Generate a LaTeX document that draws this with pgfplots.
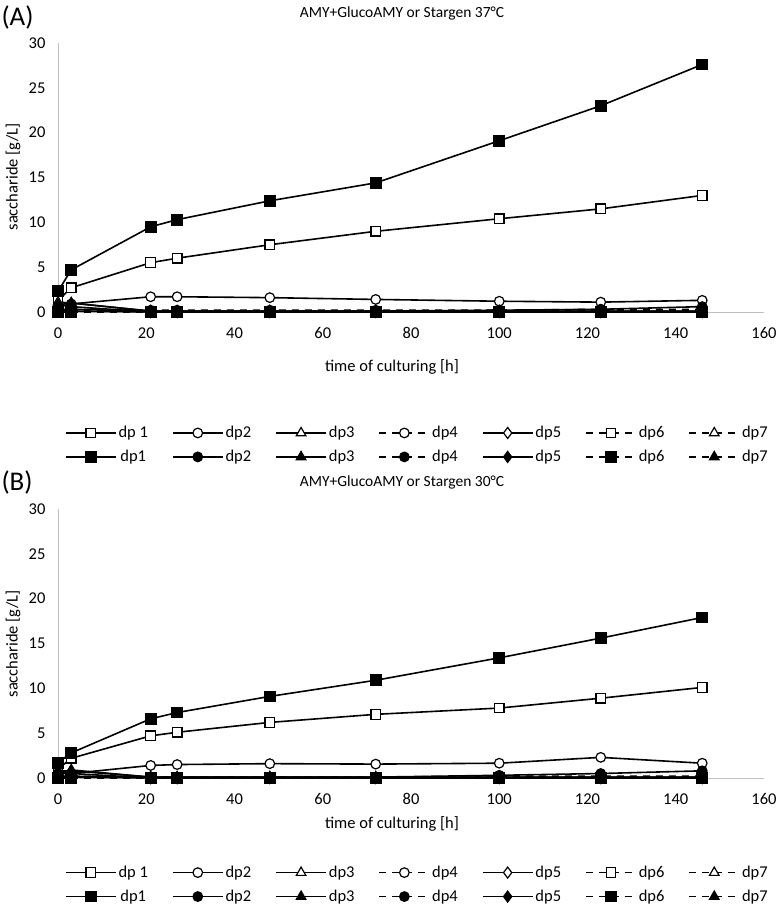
\documentclass[border=0pt]{standalone}
\usepackage{pgfplots}
\usepackage{pgfplotstable}
\usepackage{fontspec}
\setmainfont{Carlito}
\pgfplotsset{compat=1.18}

% t, open markers (a1..a7), filled markers (b1..b7)
\pgfplotstableread{
t   a1   a2  a3  a4  a5  a6  a7  b1   b2  b3  b4  b5  b6  b7
0   1.3  0.6 1.1 0.3 0.8 0.1 0.1 2.3  0.2 0.8 0.1 0.1 0.0 0.0
3   2.7  0.9 1.0 0.3 0.6 0.1 0.1 4.7  0.3 1.0 0.1 0.1 0.0 0.0
21  5.5  1.7 0.1 0.2 0.0 0.1 0.0 9.5  0.1 0.1 0.0 0.0 0.0 0.0
27  6.0  1.7 0.1 0.2 0.0 0.1 0.0 10.3 0.1 0.1 0.0 0.0 0.0 0.0
48  7.5  1.6 0.1 0.2 0.0 0.1 0.0 12.4 0.1 0.1 0.0 0.0 0.0 0.0
72  9.0  1.4 0.1 0.2 0.0 0.1 0.0 14.4 0.1 0.1 0.0 0.0 0.0 0.0
100 10.4 1.2 0.1 0.2 0.0 0.1 0.0 19.1 0.2 0.1 0.0 0.0 0.0 0.0
123 11.5 1.1 0.1 0.3 0.0 0.1 0.0 23.0 0.3 0.1 0.0 0.0 0.0 0.0
146 13.0 1.3 0.1 0.3 0.0 0.1 0.0 27.6 0.6 0.1 0.0 0.0 0.0 0.0
}\dataA

\pgfplotstableread{
t   a1   a2   a3  a4  a5  a6  a7  b1   b2  b3  b4  b5  b6  b7
0   1.0  0.5  0.8 0.2 0.6 0.1 0.1 1.7  0.1 0.6 0.1 0.1 0.0 0.0
3   2.2  0.5  0.8 0.2 0.5 0.1 0.1 2.8  0.2 0.9 0.1 0.1 0.0 0.0
21  4.7  1.4  0.1 0.1 0.0 0.1 0.0 6.6  0.1 0.1 0.0 0.0 0.0 0.0
27  5.1  1.5  0.1 0.1 0.0 0.1 0.0 7.3  0.1 0.1 0.0 0.0 0.0 0.0
48  6.2  1.6  0.1 0.1 0.0 0.1 0.0 9.1  0.1 0.1 0.0 0.0 0.0 0.0
72  7.1  1.55 0.1 0.1 0.0 0.1 0.0 10.9 0.1 0.1 0.0 0.0 0.0 0.0
100 7.8  1.65 0.1 0.2 0.0 0.1 0.0 13.4 0.3 0.1 0.0 0.0 0.0 0.0
123 8.9  2.3  0.1 0.2 0.0 0.1 0.0 15.6 0.5 0.1 0.0 0.0 0.0 0.0
146 10.1 1.65 0.1 0.2 0.0 0.1 0.0 17.9 0.8 0.1 0.0 0.0 0.0 0.0
}\dataB

\newcommand{\fnt}{\fontsize{16.5}{19}\selectfont}

\pgfplotsset{
  excel/.style={
    scale only axis, width=706pt, height=269pt,
    xmin=0, xmax=160, ymin=0, ymax=30,
    xtick={0,20,...,160}, ytick={0,5,...,30},
    axis x line=bottom, axis y line=left,
    axis line style={draw=black!25, line width=0.8pt, -},
    major tick length=0pt,
    tick label style={font=\fnt},
    xticklabel style={yshift=-12pt},
    yticklabel style={xshift=-9pt},
    /pgf/number format/assume math mode=true,
    clip=false,
    legend columns=7,
    legend style={draw=none, font=\fnt,
      /tikz/every even column/.append style={column sep=22pt},
      row sep=7pt},
    legend image code/.code={
      \draw[mark repeat=2,mark phase=2] plot coordinates {(0pt,0pt) (25pt,0pt) (50pt,0pt)};},
  },
  ln/.style={black, line width=1.6pt},
  dsh/.style={dash pattern=on 7pt off 6pt},
  oq/.style={ln, mark=square*, mark size=4.8pt, mark options={solid, line width=1.2pt, fill=white}},
  oc/.style={ln, mark=*, mark size=4.8pt, mark options={solid, line width=1.2pt, fill=white}},
  ot/.style={ln, mark=triangle*, mark size=5.5pt, mark options={solid, line width=1.2pt, fill=white}},
  od/.style={ln, mark=diamond*, mark size=5.5pt, mark options={solid, line width=1.2pt, fill=white}},
  fq/.style={ln, mark=square*, mark size=5.3pt, mark options={solid, line width=1.2pt, fill=black}},
  fc/.style={ln, mark=*, mark size=4.8pt, mark options={solid, line width=1.2pt, fill=black}},
  ft/.style={ln, mark=triangle*, mark size=5.5pt, mark options={solid, line width=1.2pt, fill=black}},
  fd/.style={ln, mark=diamond*, mark size=5.5pt, mark options={solid, line width=1.2pt, fill=black}},
}

\newcommand{\allseries}[1]{%
  \addplot[oq] table[x=t, y=a1] {#1}; \addlegendentry{dp 1}
  \addplot[oc] table[x=t, y=a2] {#1}; \addlegendentry{dp2}
  \addplot[ot] table[x=t, y=a3] {#1}; \addlegendentry{dp3}
  \addplot[oc, dsh] table[x=t, y=a4] {#1}; \addlegendentry{dp4}
  \addplot[od] table[x=t, y=a5] {#1}; \addlegendentry{dp5}
  \addplot[oq, dsh] table[x=t, y=a6] {#1}; \addlegendentry{dp6}
  \addplot[ot, dsh] table[x=t, y=a7] {#1}; \addlegendentry{dp7}
  \addplot[fq] table[x=t, y=b1] {#1}; \addlegendentry{dp1}
  \addplot[fc] table[x=t, y=b2] {#1}; \addlegendentry{dp2}
  \addplot[ft] table[x=t, y=b3] {#1}; \addlegendentry{dp3}
  \addplot[fc, dsh] table[x=t, y=b4] {#1}; \addlegendentry{dp4}
  \addplot[fd] table[x=t, y=b5] {#1}; \addlegendentry{dp5}
  \addplot[fq, dsh] table[x=t, y=b6] {#1}; \addlegendentry{dp6}
  \addplot[ft, dsh] table[x=t, y=b7] {#1}; \addlegendentry{dp7}
}

\begin{document}
\begin{tikzpicture}
\useasboundingbox (0,0) rectangle (780pt,913pt);

\begin{axis}[excel, at={(58pt,601pt)}, anchor=south west,
    legend style={at={(0.509,-0.41)}, anchor=north}]
  \allseries{\dataA}
\end{axis}

\begin{axis}[excel, at={(58pt,135pt)}, anchor=south west,
    legend style={at={(0.509,-0.312)}, anchor=north}]
  \allseries{\dataB}
\end{axis}

\node[anchor=west, font=\fontsize{27}{30}\selectfont] at (-2pt,895pt) {(A)};
\node[anchor=west, font=\fontsize{27}{30}\selectfont] at (-2pt,430pt) {(B)};
\node[font=\fontsize{15.5}{18}\selectfont] at (402pt,900pt) {AMY+GlucoAMY or Stargen 37°C};
\node[font=\fontsize{15.5}{18}\selectfont] at (402pt,431pt) {AMY+GlucoAMY or Stargen 30°C};
\node[font=\fnt] at (392pt,546pt) {time of culturing [h]};
\node[font=\fnt] at (392pt,89pt) {time of culturing [h]};
\node[rotate=90, font=\fnt] at (13pt,736pt) {saccharide [g/L]};
\node[rotate=90, font=\fnt] at (13pt,269pt) {saccharide [g/L]};
\end{tikzpicture}
\end{document}
